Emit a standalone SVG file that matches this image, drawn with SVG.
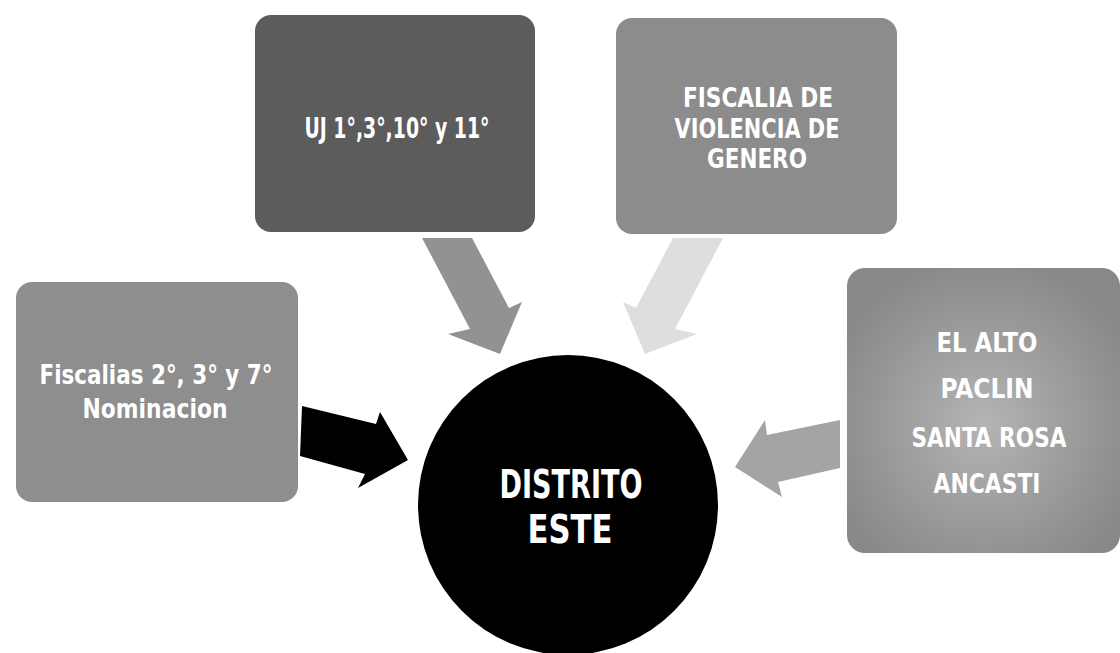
<svg xmlns="http://www.w3.org/2000/svg" width="1120" height="653" viewBox="0 0 1120 653">
<defs>
<radialGradient id="g4" cx="0.5" cy="0.55" r="0.6">
<stop offset="0" stop-color="#b4b4b4"/>
<stop offset="1" stop-color="#888888"/>
</radialGradient>
<style>
.lbl{font-family:"DejaVu Sans Condensed","DejaVu Sans",sans-serif;font-weight:bold;fill:#ffffff;text-anchor:middle}
</style>
</defs>
<rect width="1120" height="653" fill="#ffffff"/>
<g id="connectors">
<polygon points="422,238 472,238 509,308 522,302 500,354 448,334 470,329" fill="#929292"/>
<polygon points="723,238 673,238 636,308 623,302 645,354 697,334 675,329" fill="#dedede"/>
<polygon points="302,406 376,424 380,412 408,460 358,488 365,474 300,456" fill="#000000"/>
<polygon points="840,420 767,435 765,420 735,467 782,497 778,482 840,468" fill="#a4a4a4"/>
</g>
<g id="node-uj">
<rect x="255" y="15" width="280" height="217" rx="16" fill="#5c5c5c"/>
<text class="lbl" x="397" y="138" font-size="29" textLength="185" lengthAdjust="spacingAndGlyphs">UJ 1°,3°,10° y 11°</text>
</g>
<g id="node-fiscalia-violencia">
<rect x="616" y="18" width="281" height="216" rx="16" fill="#8c8c8c"/>
<text class="lbl" x="758" y="107" font-size="27" textLength="150" lengthAdjust="spacingAndGlyphs">FISCALIA DE</text>
<text class="lbl" x="757" y="138" font-size="27" textLength="165" lengthAdjust="spacingAndGlyphs">VIOLENCIA DE</text>
<text class="lbl" x="757" y="168" font-size="27" textLength="100" lengthAdjust="spacingAndGlyphs">GENERO</text>
</g>
<g id="node-fiscalias">
<rect x="16" y="282" width="282" height="220" rx="16" fill="#8e8e8e"/>
<text class="lbl" x="156" y="384" font-size="26" textLength="233" lengthAdjust="spacingAndGlyphs">Fiscalias 2°, 3° y 7°</text>
<text class="lbl" x="155" y="418" font-size="26" textLength="145" lengthAdjust="spacingAndGlyphs">Nominacion</text>
</g>
<g id="node-localidades">
<rect x="847" y="268" width="273" height="285" rx="18" fill="url(#g4)"/>
<text class="lbl" x="987" y="352" font-size="27" textLength="101" lengthAdjust="spacingAndGlyphs">EL ALTO</text>
<text class="lbl" x="987" y="398" font-size="27" textLength="93" lengthAdjust="spacingAndGlyphs">PACLIN</text>
<text class="lbl" x="989" y="447" font-size="27" textLength="155" lengthAdjust="spacingAndGlyphs">SANTA ROSA</text>
<text class="lbl" x="987" y="493" font-size="27" textLength="107" lengthAdjust="spacingAndGlyphs">ANCASTI</text>
</g>
<g id="node-distrito">
<circle cx="568" cy="505" r="150" fill="#000000"/>
<text class="lbl" x="571" y="498" font-size="39" textLength="143" lengthAdjust="spacingAndGlyphs">DISTRITO</text>
<text class="lbl" x="570" y="543" font-size="39" textLength="85" lengthAdjust="spacingAndGlyphs">ESTE</text>
</g>
</svg>
